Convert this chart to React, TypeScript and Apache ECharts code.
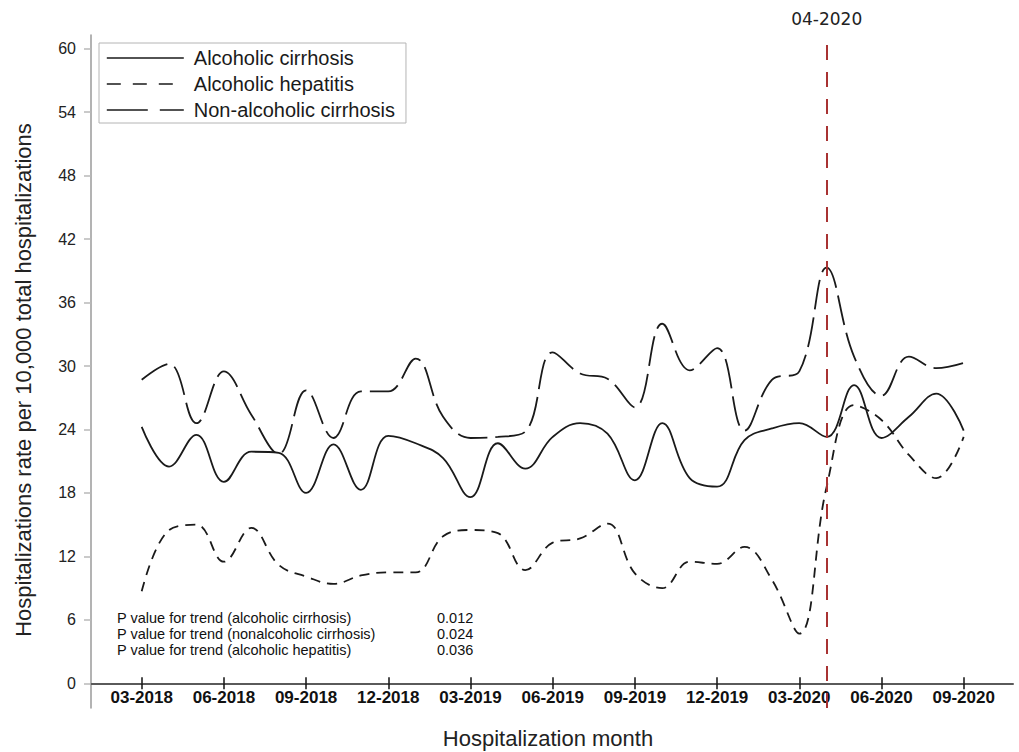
import React, { useEffect, useRef } from "react";
import * as echarts from "echarts";

// Month categories (index 0 = 03-2018)
const months = [
  "03-2018", "04-2018", "05-2018", "06-2018", "07-2018", "08-2018", "09-2018", "10-2018",
  "11-2018", "12-2018", "01-2019", "02-2019", "03-2019", "04-2019", "05-2019", "06-2019",
  "07-2019", "08-2019", "09-2019", "10-2019", "11-2019", "12-2019", "01-2020", "02-2020",
  "03-2020", "04-2020", "05-2020", "06-2020", "07-2020", "08-2020", "09-2020",
];

const tickLabels = [
  "03-2018", "06-2018", "09-2018", "12-2018", "03-2019", "06-2019",
  "09-2019", "12-2019", "03-2020", "06-2020", "09-2020",
];

const yTicks = [0, 6, 12, 18, 24, 30, 36, 42, 48, 54, 60];

const alcoholicCirrhosis = [
  24.25, 20.5, 23.5, 19.05, 21.9, 21.8, 18.0, 22.6, 18.3, 23.4, 22.7, 21.3, 17.6, 22.7, 20.3, 23.3,
  24.6, 23.6, 19.2, 24.6, 19.4, 18.6, 23.0, 24.1, 24.6, 23.3, 28.2, 23.2, 25.2, 27.4, 23.9,
];

const alcoholicHepatitis = [
  8.7, 14.5, 15.0, 11.5, 14.7, 11.2, 10.1, 9.4, 10.2, 10.5, 10.5, 13.9, 14.5, 14.2, 10.7, 13.3,
  13.7, 15.1, 10.4, 9.0, 11.5, 11.3, 12.9, 9.8, 4.7, 18.6, 26.3, 24.9, 21.6, 19.4, 23.3,
];

const nonAlcoholicCirrhosis = [
  28.7, 30.2, 24.6, 29.5, 25.4, 21.7, 27.7, 23.2, 27.6, 27.6, 30.7, 25.2, 23.2, 23.3, 23.8, 31.3,
  29.3, 28.8, 26.1, 34.0, 29.6, 31.7, 23.9, 28.7, 29.5, 39.3, 30.9, 27.2, 30.9, 29.8, 30.3,
];

const interventionMonth = "04-2020";

const pLabels = [
  "P value for trend (alcoholic cirrhosis)",
  "P value for trend (nonalcoholic cirrhosis)",
  "P value for trend (alcoholic hepatitis)",
];
const pValues = ["0.012", "0.024", "0.036"];

const FONT = "'Liberation Sans', Arial, sans-serif";
const X_OFFSET = -24.7;

export default function App() {
  const ref = useRef<HTMLDivElement>(null);

  useEffect(() => {
    if (!ref.current) return;
    const chart = echarts.init(ref.current, undefined, { renderer: "svg" });

    const tickIdx = tickLabels.map((l) => months.indexOf(l));
    const toData = (arr: number[]) => arr.map((v, i) => [i, v]);

    const lineCommon = {
      type: "line",
      symbol: "none",
      smooth: 0.4,
      silent: true,
    };

    const option: any = {
      animation: false,
      backgroundColor: "#ffffff",
      grid: {
        left: 91,
        right: 6,
        top: 35,
        bottom: 44,
        containLabel: false,
        outerBoundsMode: "none",
      },
      legend: {
        left: 99,
        top: 43,
        orient: "vertical",
        align: "left",
        padding: [5, 11, 3, 7],
        itemWidth: 77,
        itemHeight: 14,
        itemGap: 6,
        borderColor: "#b4b4b4",
        borderWidth: 1,
        selectedMode: false,
        itemStyle: { color: "rgba(0,0,0,0)", borderWidth: 0, opacity: 0 },
        textStyle: {
          fontFamily: FONT,
          fontSize: 20,
          color: "#1a1a1a",
          lineHeight: 20,
          padding: [0, 0, 0, 5],
        },
        data: [
          { name: "Alcoholic cirrhosis", lineStyle: { type: "solid", width: 1.6 } },
          { name: "Alcoholic hepatitis", lineStyle: { type: [14, 12], width: 1.6 } },
          { name: "Non-alcoholic cirrhosis", lineStyle: { type: [41, 12], width: 1.6 } },
        ],
      },
      xAxis: [
        {
          type: "value",
          min: -1.85,
          max: 31.8,
          position: "bottom",
          offset: X_OFFSET,
          splitLine: { show: false },
          axisLine: { show: true, onZero: false, lineStyle: { color: "#5a5a5a", width: 2 } },
          axisTick: {
            show: true,
            customValues: tickIdx,
            length: 6,
            lineStyle: { color: "#111", width: 1.5 },
          },
          axisLabel: {
            show: true,
            customValues: tickIdx,
            formatter: (v: number) => months[Math.round(v)] ?? "",
            margin: 6,
            fontFamily: FONT,
            fontSize: 17,
            fontWeight: "bold",
            color: "#111",
          },
        },
        {
          type: "value",
          min: -1.85,
          max: 31.8,
          position: "bottom",
          offset: X_OFFSET,
          splitLine: { show: false },
          axisLine: { show: false, onZero: false },
          axisTick: {
            show: true,
            inside: true,
            customValues: tickIdx,
            length: 6,
            lineStyle: { color: "#111", width: 1.5 },
          },
          axisLabel: { show: false },
        },
      ],
      yAxis: {
        type: "value",
        min: -2.33,
        max: 61.3,
        splitLine: { show: false },
        axisLine: { show: true, onZero: false, lineStyle: { color: "#9a9a9a", width: 1.5 } },
        axisTick: {
          show: true,
          customValues: yTicks,
          length: 7,
          lineStyle: { color: "#b8b8b8", width: 1.5 },
        },
        axisLabel: {
          show: true,
          customValues: yTicks,
          margin: 15,
          fontFamily: FONT,
          fontSize: 16,
          color: "#222",
        },
      },
      series: [
        {
          ...lineCommon,
          name: "Alcoholic cirrhosis",
          data: toData(alcoholicCirrhosis),
          lineStyle: { color: "#1a1a1a", width: 1.8, type: "solid" },
          itemStyle: { color: "#1a1a1a" },
          z: 3,
          markLine: {
            silent: true,
            symbol: "none",
            data: [{ xAxis: months.indexOf(interventionMonth) }],
            lineStyle: { color: "#a83232", type: [15, 12], width: 2 },
            label: {
              show: true,
              position: "end",
              formatter: interventionMonth,
              distance: 8,
              fontFamily: "'DejaVu Sans', sans-serif",
              fontSize: 17,
              color: "#222",
            },
          },
        },
        {
          ...lineCommon,
          name: "Alcoholic hepatitis",
          data: toData(alcoholicHepatitis),
          lineStyle: { color: "#1a1a1a", width: 1.8, type: [10, 7] },
          itemStyle: { color: "#1a1a1a" },
          z: 3,
        },
        {
          ...lineCommon,
          name: "Non-alcoholic cirrhosis",
          data: toData(nonAlcoholicCirrhosis),
          lineStyle: { color: "#1a1a1a", width: 1.8, type: [30, 8] },
          itemStyle: { color: "#1a1a1a" },
          z: 3,
        },
      ],
      graphic: [
        {
          type: "text",
          x: 548,
          y: 738,
          style: {
            text: "Hospitalization month",
            fontFamily: FONT,
            fontSize: 22,
            fill: "#222",
            align: "center",
            verticalAlign: "middle",
          },
        },
        {
          type: "text",
          x: 23,
          y: 380,
          rotation: Math.PI / 2,
          style: {
            text: "Hospitalizations rate per 10,000 total hospitalizations",
            fontFamily: FONT,
            fontSize: 22,
            fill: "#222",
            align: "center",
            verticalAlign: "middle",
          },
        },
        ...pLabels.map((t, i) => ({
          type: "text",
          x: 117,
          y: 618 + i * 16,
          style: {
            text: t,
            fontFamily: FONT,
            fontSize: 14.5,
            fill: "#111",
            align: "left",
            verticalAlign: "middle",
          },
        })),
        ...pValues.map((t, i) => ({
          type: "text",
          x: 437,
          y: 618 + i * 16,
          style: {
            text: t,
            fontFamily: FONT,
            fontSize: 14.5,
            fill: "#111",
            align: "left",
            verticalAlign: "middle",
          },
        })),
      ],
    };

    chart.setOption(option);
    return () => chart.dispose();
  }, []);

  return (
    <div
      ref={ref}
      style={{ position: "fixed", left: 0, top: 0, width: 1019, height: 752, background: "#fff" }}
    />
  );
}
